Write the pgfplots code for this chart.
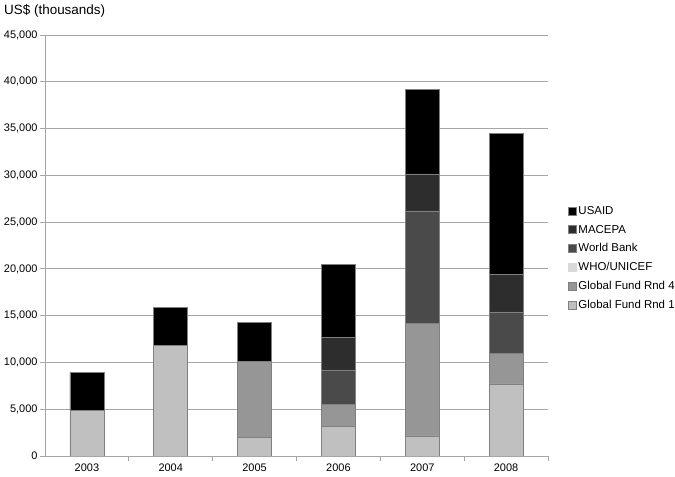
\documentclass[border=0pt]{standalone}
\usepackage{fontspec}
\setmainfont{Liberation Sans}
\usepackage{pgfplots}
\pgfplotsset{compat=1.18}

\definecolor{gfone}{HTML}{C0C0C0}
\definecolor{gffour}{HTML}{969696}
\definecolor{whou}{HTML}{D9D9D9}
\definecolor{wbank}{HTML}{4A4A4A}
\definecolor{macepa}{HTML}{2D2D2D}
\definecolor{usaid}{HTML}{000000}
\definecolor{gridc}{HTML}{A6A6A6}
\definecolor{edge}{HTML}{808080}

\begin{document}
\begin{tikzpicture}
% fixed page: 675 x 477 bp, axis box at (45,21) from the lower left
\path[use as bounding box] (-45bp,-21bp) rectangle (630bp,456bp);
\begin{axis}[
  scale only axis, width=503bp, height=421bp,
  ybar stacked, bar width=34bp,
  xmin=-0.5, xmax=5.5, ymin=0, ymax=45000,
  xtick={0,...,5}, xticklabels={2003,2004,2005,2006,2007,2008},
  minor xtick={0.5,1.5,2.5,3.5,4.5,5.5},
  major x tick style={draw=none},
  minor x tick style={draw=gridc, line width=0.8bp},
  minor tick length=5bp,
  ytick={0,5000,...,45000},
  major y tick style={draw=gridc, line width=0.8bp},
  major tick length=5bp,
  tick align=outside,
  scaled y ticks=false,
  /pgf/number format/1000 sep={,},
  /pgf/number format/assume math mode=true,
  ymajorgrids, grid style={gridc, line width=0.8bp},
  axis x line*=bottom, axis y line*=left,
  axis line style={gridc, line width=0.8bp, -},
  tick label style={font=\fontsize{11}{13}\selectfont},
  yticklabel style={xshift=1bp},
  xticklabel style={yshift=1bp},
  legend cell align=left,
  reverse legend,
  legend style={draw=none, fill=none, at={(rel axis cs:1.033,0.603)}, anchor=north west,
    font=\fontsize{11.5}{13}\selectfont, row sep=5.2bp,
    /tikz/every even column/.append style={column sep=1bp}},
  legend image code/.code={\draw[#1] (0bp,-4bp) rectangle (8bp,4bp);},
  every axis plot/.append style={draw=edge, line width=0.7bp},
]
\addplot[fill=gfone] coordinates {(0,4900) (1,11850) (2,2000) (3,3200) (4,2150) (5,7700)};
\addlegendentry{Global Fund Rnd 1}
\addplot[fill=gffour] coordinates {(0,0) (1,0) (2,8150) (3,2300) (4,12050) (5,3300)};
\addlegendentry{Global Fund Rnd 4}
\addplot[fill=whou, draw=whou] coordinates {(0,0) (1,0) (2,0) (3,0) (4,0) (5,0)};
\addlegendentry{WHO/UNICEF}
\addplot[fill=wbank] coordinates {(0,0) (1,0) (2,0) (3,3700) (4,12000) (5,4400)};
\addlegendentry{World Bank}
\addplot[fill=macepa] coordinates {(0,0) (1,0) (2,0) (3,3500) (4,3950) (5,4000)};
\addlegendentry{MACEPA}
\addplot[fill=usaid] coordinates {(0,4050) (1,4050) (2,4100) (3,7750) (4,9050) (5,15050)};
\addlegendentry{USAID}
\end{axis}
\node[anchor=west, font=\fontsize{13.5}{15}\selectfont, inner sep=0pt] at (-41bp,445bp) {US\$ (thousands)};
\end{tikzpicture}
\end{document}
